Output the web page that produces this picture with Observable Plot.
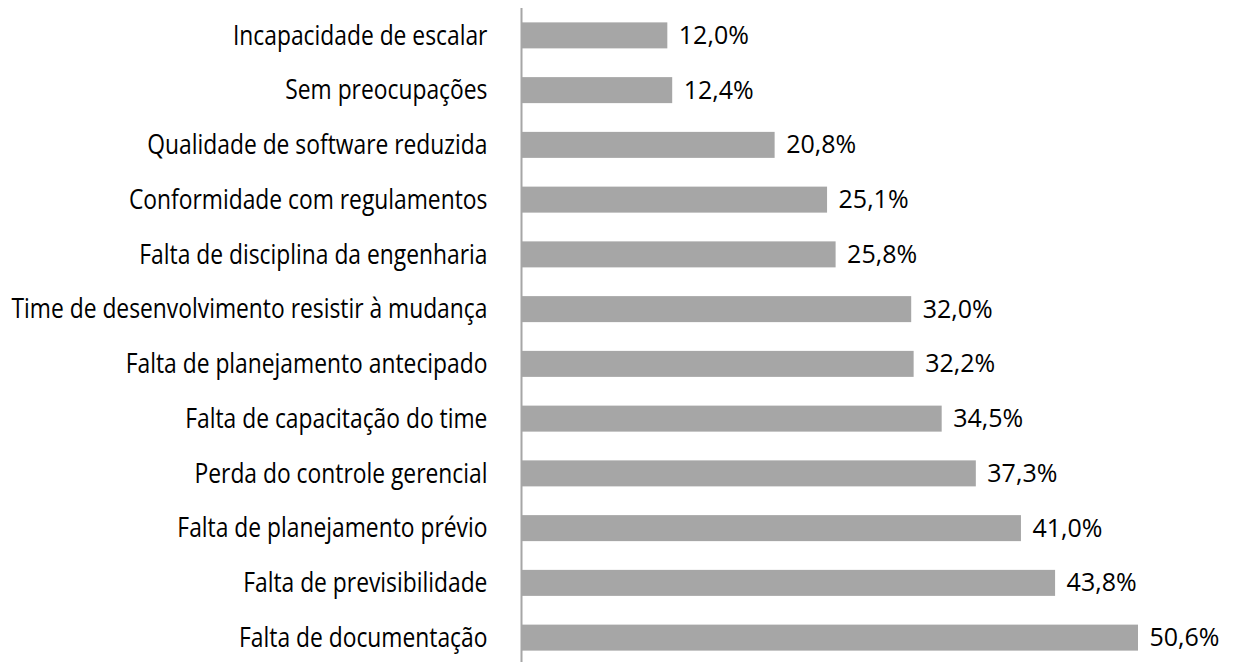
<!DOCTYPE html>
<html>
<head>
<meta charset="utf-8">
<script src="https://cdn.jsdelivr.net/npm/d3@7"></script>
<script src="https://cdn.jsdelivr.net/npm/@observablehq/plot@0.6"></script>
<style>
  html, body { margin: 0; padding: 0; background: #fff; overflow: hidden; }
</style>
</head>
<body>
<div id="chart"></div>
<script>
const categories = [
  "Incapacidade de escalar",
  "Sem preocupações",
  "Qualidade de software reduzida",
  "Conformidade com regulamentos",
  "Falta de disciplina da engenharia",
  "Time de desenvolvimento resistir à mudança",
  "Falta de planejamento antecipado",
  "Falta de capacitação do time",
  "Perda do controle gerencial",
  "Falta de planejamento prévio",
  "Falta de previsibilidade",
  "Falta de documentação"
];
const values = [12.0, 12.4, 20.8, 25.1, 25.8, 32.0, 32.2, 34.5, 37.3, 41.0, 43.8, 50.6];

const data = categories.map((c, i) => ({category: c, value: values[i]}));
const fmt = v => v.toFixed(1).replace(".", ",") + "%";

const labelGap = 34;
const labelSqueeze = 0.83;

const chart = Plot.plot({
  width: 1237,
  height: 662,
  marginLeft: 521,
  marginRight: 99,
  marginTop: 8,
  marginBottom: -3,
  style: {background: "#fff", color: "#000"},
  x: {domain: [0, 50.6], axis: null},
  y: {domain: categories, paddingInner: 0.525, paddingOuter: 0.2625, round: false, axis: null},
  marks: [
    Plot.barX(data, {x: "value", y: "category", fill: "#a6a6a6"}),
    Plot.ruleX([0], {stroke: "#a6a6a6", strokeWidth: 2}),
    Plot.text(data, {
      x: "value", y: "category", text: d => fmt(d.value),
      textAnchor: "start", dx: 11, fontSize: 25,
      fontFamily: "'Open Sans', sans-serif", fill: "#000"
    }),
    Plot.axisY({
      tickSize: 0, tickPadding: labelGap, fontSize: 27.5,
      fontFamily: "'Open Sans', sans-serif",
      fill: "#000", label: null
    })
  ]
});
document.getElementById("chart").appendChild(chart);

// horizontally condense the category labels around their right-aligned anchor
const tickGroup = chart.querySelector("g[aria-label='y-axis tick label']");
if (tickGroup) {
  const anchorX = 521 - labelGap;
  const wrap = document.createElementNS("http://www.w3.org/2000/svg", "g");
  wrap.setAttribute("transform", `translate(${anchorX},0) scale(${labelSqueeze},1) translate(${-anchorX},0)`);
  tickGroup.parentNode.insertBefore(wrap, tickGroup);
  wrap.appendChild(tickGroup);
}
</script>
</body>
</html>
